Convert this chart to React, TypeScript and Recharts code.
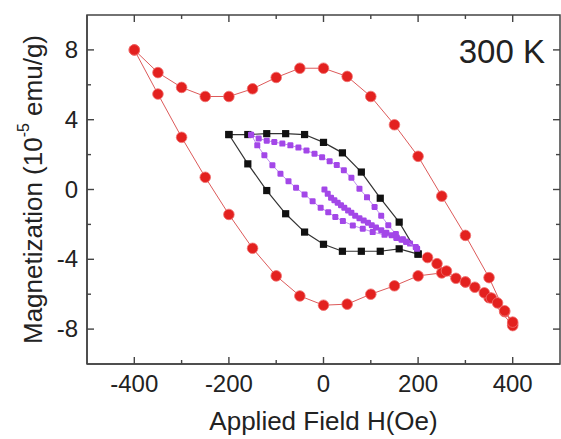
import React from "react";
import { ScatterChart, Scatter, XAxis, YAxis, ReferenceArea } from "recharts";

// applied field (Oe) and magnetization (1e-5 emu/g)
const redUpperH = [400, 383, 350, 300, 250, 200, 150, 100, 50, 0, -50, -100, -150, -200, -250, -300, -350, -400];
const redUpperM = [-7.7, -7.0, -5.05, -2.63, -0.38, 1.9, 3.71, 5.33, 6.48, 6.95, 6.95, 6.42, 5.77, 5.33, 5.33, 5.85, 6.7, 8.0];
const redLowerH = [-400, -350, -300, -250, -200, -150, -100, -50, 0, 50, 100, 150, 200, 250, 300, 350, 400];
const redLowerM = [8.0, 5.47, 2.99, 0.7, -1.43, -3.37, -4.95, -6.1, -6.63, -6.57, -6.0, -5.52, -4.95, -4.78, -5.3, -6.2, -7.8];
const redTailH = [200, 220, 240, 260, 280, 300, 320, 340, 355, 368, 383, 400];
const redTailM = [-3.7, -3.9, -4.25, -4.67, -5.09, -5.3, -5.6, -5.92, -6.22, -6.5, -6.95, -7.6];

const blackUpperH = [200, 160, 120, 80, 40, 0, -40, -80, -120, -160, -200];
const blackUpperM = [-3.7, -1.87, -0.5, 1.0, 2.1, 2.7, 3.15, 3.2, 3.2, 3.15, 3.15];
const blackLowerH = [-200, -160, -120, -80, -40, 0, 40, 80, 120, 160, 200];
const blackLowerM = [3.15, 1.47, -0.06, -1.39, -2.44, -3.14, -3.54, -3.54, -3.54, -3.4, -3.7];

const purpleUpperH = [198, 183, 168, 153, 137, 122, 108, 92, 76, 59, 43, 28, 13, -3, -19, -36, -53, -70, -87, -104, -120, -137, -153];
const purpleUpperM = [-3.4, -3.1, -2.85, -2.55, -2.05, -1.5, -1.0, -0.45, 0.05, 0.67, 1.1, 1.4, 1.62, 1.85, 2.05, 2.24, 2.4, 2.53, 2.63, 2.72, 2.8, 2.92, 3.14];
const purpleLowerH = [-153, -140, -125, -108, -91, -74, -58, -40, -23, -6, 10, 25, 41, 62, 83, 104, 129, 154, 175, 195];
const purpleLowerM = [3.14, 2.53, 1.96, 1.39, 0.9, 0.47, 0.1, -0.29, -0.67, -1.05, -1.3, -1.58, -1.81, -2.06, -2.25, -2.44, -2.6, -2.78, -3.0, -3.3];
const purpleInnerH = [2, 9, 16, 23, 30, 37, 44, 52, 59, 67, 76, 85, 94, 102, 111, 122, 133, 144, 155, 165, 175];
const purpleInnerM = [0.0, -0.25, -0.47, -0.62, -0.76, -0.9, -1.05, -1.2, -1.33, -1.5, -1.65, -1.78, -1.9, -2.05, -2.18, -2.33, -2.48, -2.62, -2.75, -2.88, -3.0];

const xTicks = [-400, -300, -200, -100, 0, 100, 200, 300, 400];
const yTicks = [-8, -6, -4, -2, 0, 2, 4, 6, 8];
const xDomain: [number, number] = [-500, 500];
const yDomain: [number, number] = [-10, 10];

const pts = (h: number[], m: number[]) => h.map((x, i) => ({ x, y: m[i] }));

const FONT = "'Liberation Sans', Arial, Helvetica, sans-serif";
const AXIS = "#444";
const TEXT = "#222";

const W = 561;
const H = 439;
const M = { top: 15, right: 1, bottom: 0, left: 0 };
const Y_AXIS_W = 87;
const X_AXIS_H = 75;
const PLOT_W = W - M.left - M.right - Y_AXIS_W;
const PLOT_H = H - M.top - M.bottom - X_AXIS_H;
const MAJOR_PX = 7;
const MINOR_PX = 4;

const RedDot = (p: any) => (
  <circle cx={p.cx} cy={p.cy} r={5.3} fill="#e3211f" stroke="#f07070" strokeWidth={0.8} />
);
const BlackSquare = (p: any) => (
  <rect x={p.cx - 3.6} y={p.cy - 3.6} width={7.2} height={7.2} fill="#111" />
);
const PurpleSquare = (p: any) => (
  <rect x={p.cx - 3} y={p.cy - 3} width={6} height={6} rx={1.2} fill="#a347e8" />
);

// tick marks point into the plot box, on both opposite sides; labels on majors only
const XTick = (props: any) => {
  const { x, y, payload } = props;
  const major = payload.value % 200 === 0;
  const len = major ? MAJOR_PX : MINOR_PX;
  const yTop = y - PLOT_H;
  return (
    <g>
      <rect x={x - 0.7} y={y - len} width={1.4} height={len} fill={AXIS} />
      <rect x={x - 0.7} y={yTop} width={1.4} height={len} fill={AXIS} />
      {major && (
        <text x={x} y={y + 28} textAnchor="middle" fontSize={24} fill={TEXT} fontFamily={FONT}>
          {payload.value}
        </text>
      )}
    </g>
  );
};
const YTick = (props: any) => {
  const { x, y, payload } = props;
  const major = payload.value % 4 === 0;
  const len = major ? MAJOR_PX : MINOR_PX;
  const xRight = x + PLOT_W;
  return (
    <g>
      <rect x={x} y={y - 0.7} width={len} height={1.4} fill={AXIS} />
      <rect x={xRight - len} y={y - 0.7} width={len} height={1.4} fill={AXIS} />
      {major && (
        <text x={x - 9} y={y + 8} textAnchor="end" fontSize={24} fill={TEXT} fontFamily={FONT}>
          {payload.value}
        </text>
      )}
    </g>
  );
};

export default function App() {
  return (
    <div style={{ position: "absolute", left: 0, top: 0, width: W, height: H, background: "#fff" }}>
      <ScatterChart width={W} height={H} margin={M}>
        <ReferenceArea x1={xDomain[0]} x2={xDomain[1]} y1={yDomain[0]} y2={yDomain[1]} fill="none" fillOpacity={0} stroke={AXIS} strokeWidth={1.5} ifOverflow="visible" />
        <XAxis
          type="number"
          dataKey="x"
          domain={xDomain}
          ticks={xTicks}
          interval={0}
          height={X_AXIS_H}
          tickSize={0}
          tickMargin={0}
          tickLine={false}
          axisLine={{ stroke: AXIS, strokeWidth: 1.5 }}
          tick={XTick}
          allowDataOverflow
          label={{
            content: (lp: any) => {
              const vb = lp.viewBox || { x: Y_AXIS_W, y: M.top + PLOT_H, width: PLOT_W, height: X_AXIS_H };
              return (
                <text x={vb.x + vb.width / 2} y={vb.y + 66} textAnchor="middle" fontSize={26} fill={TEXT} fontFamily={FONT}>
                  Applied Field H(Oe)
                </text>
              );
            },
          }}
        />
        <YAxis
          type="number"
          dataKey="y"
          domain={yDomain}
          ticks={yTicks}
          interval={0}
          width={Y_AXIS_W}
          tickSize={0}
          tickMargin={0}
          tickLine={false}
          axisLine={{ stroke: AXIS, strokeWidth: 1.5 }}
          tick={YTick}
          allowDataOverflow
          label={{
            content: (lp: any) => {
              const vb = lp.viewBox || { x: 0, y: M.top, width: Y_AXIS_W, height: PLOT_H };
              const cx = vb.x + 33;
              const cy = vb.y + vb.height / 2;
              return (
                <text
                  x={cx}
                  y={cy}
                  transform={`rotate(-90 ${cx} ${cy})`}
                  textAnchor="middle"
                  dominantBaseline="central"
                  fontSize={26}
                  fill={TEXT}
                  fontFamily={FONT}
                >
                  Magnetization (10
                  <tspan dy={-10} fontSize={16}>-5</tspan>
                  <tspan dy={10}> emu/g)</tspan>
                </text>
              );
            },
          }}
        />

        <Scatter data={pts(redUpperH, redUpperM)} line={{ stroke: "#dd5a5a", strokeWidth: 1 }} shape={RedDot} isAnimationActive={false} />
        <Scatter data={pts(redLowerH, redLowerM)} line={{ stroke: "#dd5a5a", strokeWidth: 1 }} shape={RedDot} isAnimationActive={false} />
        <Scatter data={pts(redTailH.slice(1), redTailM.slice(1))} line={{ stroke: "#dd5a5a", strokeWidth: 1 }} shape={RedDot} isAnimationActive={false} />
        <Scatter data={pts(blackUpperH, blackUpperM)} line={{ stroke: "#333", strokeWidth: 1.2 }} shape={BlackSquare} isAnimationActive={false} />
        <Scatter data={pts(blackLowerH, blackLowerM)} line={{ stroke: "#333", strokeWidth: 1.2 }} shape={BlackSquare} isAnimationActive={false} />
        <Scatter data={pts(purpleUpperH, purpleUpperM)} line={{ stroke: "#c090f0", strokeWidth: 1 }} shape={PurpleSquare} isAnimationActive={false} />
        <Scatter data={pts(purpleLowerH, purpleLowerM)} line={{ stroke: "#c090f0", strokeWidth: 1 }} shape={PurpleSquare} isAnimationActive={false} />
        <Scatter data={pts(purpleInnerH, purpleInnerM)} line={{ stroke: "#9a3ee0", strokeWidth: 1 }} shape={PurpleSquare} isAnimationActive={false} />
      </ScatterChart>
      <div
        style={{
          position: "absolute",
          right: 16,
          top: 35,
          fontSize: 33,
          lineHeight: "33px",
          fontFamily: FONT,
          color: TEXT,
          whiteSpace: "nowrap",
        }}
      >
        300 K
      </div>
    </div>
  );
}
